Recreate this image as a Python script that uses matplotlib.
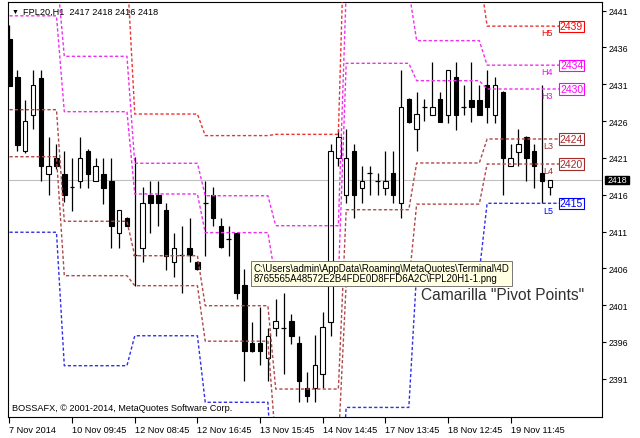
import matplotlib
matplotlib.use('Agg')
import matplotlib.pyplot as plt
import matplotlib.patches as patches
from matplotlib.transforms import blended_transform_factory
import numpy as np

plt.rcParams['font.family'] = ['Liberation Sans', 'DejaVu Sans']

W, H = 640, 439  # output size in pixels

# FPL20 H1 candles, 7 Nov 10:45 .. 19 Nov 16:45
opens = [2437.1, 2432.0, 2421.9, 2426.8, 2431.9, 2418.8, 2421.0,
         2418.8, 2417.0, 2417.9, 2422.0, 2417.9, 2418.8, 2417.9, 2410.8, 2412.8,
         2407.8, 2408.8, 2416.0, 2416.0, 2413.9, 2406.8, 2407.8, 2408.8, 2406.8,
         2414.9, 2415.9, 2411.8, 2410.0, 2410.8, 2403.8, 2395.8, 2395.8, 2393.8,
         2397.9, 2397.9, 2398.8, 2395.8, 2389.8, 2389.8, 2391.6, 2398.7, 2421.0,
         2415.9, 2422.0, 2416.9, 2418.9, 2417.9, 2416.9, 2418.9, 2414.9, 2429.0,
         2424.9, 2427.9, 2426.8, 2429.0, 2426.8, 2432.0, 2427.9, 2428.9, 2428.9,
         2430.9, 2426.8, 2430.0, 2419.9, 2421.8, 2423.9, 2422.0, 2418.9, 2417.0]
highs = [2439.1, 2432.9, 2428.9, 2432.9, 2432.9, 2423.9, 2422.9,
         2422.0, 2421.0, 2423.9, 2422.2, 2421.0, 2421.0, 2421.0, 2413.9, 2413.0,
         2421.1, 2417.0, 2417.9, 2417.9, 2414.9, 2410.8, 2411.8, 2412.8, 2407.0,
         2417.9, 2417.0, 2412.8, 2411.8, 2410.9, 2405.9, 2398.7, 2400.7, 2397.9,
         2401.8, 2402.7, 2399.8, 2396.8, 2391.9, 2396.9, 2400.0, 2422.9, 2424.9,
         2424.9, 2422.9, 2419.9, 2419.9, 2418.9, 2422.0, 2422.0, 2433.0, 2429.1,
         2429.9, 2429.0, 2434.0, 2430.0, 2433.0, 2434.0, 2430.9, 2434.0, 2430.9,
         2433.0, 2432.0, 2430.1, 2422.9, 2424.9, 2424.0, 2422.9, 2430.9, 2418.0]
lows = [2430.7, 2422.0, 2421.7, 2424.9, 2417.9, 2415.9, 2419.5,
        2415.0, 2413.8, 2416.9, 2416.9, 2417.8, 2414.7, 2408.8, 2408.8, 2411.7,
        2403.6, 2406.8, 2410.8, 2411.8, 2405.8, 2404.8, 2402.7, 2406.8, 2405.8,
        2407.7, 2411.8, 2408.8, 2407.7, 2401.8, 2390.7, 2394.6, 2392.8, 2390.7,
        2396.8, 2391.6, 2395.7, 2387.8, 2387.8, 2387.8, 2389.8, 2396.8, 2419.9,
        2414.9, 2412.8, 2414.9, 2415.9, 2415.9, 2415.9, 2414.9, 2412.8, 2425.8,
        2422.0, 2426.0, 2426.8, 2425.9, 2425.8, 2424.8, 2426.8, 2425.9, 2426.8,
        2425.8, 2425.8, 2415.9, 2419.9, 2419.9, 2417.9, 2416.9, 2414.9, 2416.0]
closes = [2430.8, 2422.8, 2426.0, 2430.9, 2419.9, 2419.9, 2419.9,
          2415.9, 2417.0, 2421.0, 2418.8, 2419.9, 2416.9, 2411.8, 2413.9, 2411.8,
          2407.8, 2414.9, 2414.9, 2414.9, 2407.7, 2408.8, 2407.8, 2407.8, 2405.9,
          2414.9, 2412.8, 2408.9, 2410.0, 2402.7, 2394.7, 2394.7, 2394.7, 2396.8,
          2398.8, 2397.9, 2396.8, 2390.7, 2388.7, 2392.8, 2398.0, 2422.0, 2423.9,
          2421.0, 2415.9, 2417.9, 2418.9, 2417.9, 2417.9, 2415.9, 2427.9, 2425.9,
          2427.0, 2427.9, 2427.9, 2425.9, 2433.0, 2426.8, 2427.9, 2427.9, 2426.8,
          2427.9, 2430.9, 2421.0, 2421.0, 2422.9, 2421.0, 2419.9, 2417.9, 2418.0]

# bars per trading day: 7, 10, 12, 13, 14, 17, 18, 19 Nov
day_bars = [7, 9, 9, 9, 9, 9, 9, 9]

# Camarilla levels per day
h5 = [2456.9, 2446.9, 2426.96, 2424.03, 2424.2, 2460.6, 2446.3, 2438.9]
h4 = [2446.7, 2434.8, 2420.27, 2415.86, 2411.79, 2443.8, 2436.93, 2433.6]
h3 = [2440.3, 2427.28, 2416.1, 2410.85, 2404.4, 2433.85, 2431.49, 2430.36]
l3 = [2427.55, 2412.39, 2407.71, 2400.92, 2389.6, 2413.96, 2420.31, 2423.57]
l4 = [2421.16, 2405.0, 2403.64, 2396.1, 2382.2, 2404.0, 2414.72, 2420.17]
l5 = [2410.9, 2392.77, 2396.84, 2387.8, 2370.0, 2387.1, 2405.5, 2414.83]

tick_bars = [0, 8, 16, 24, 32, 40, 48, 56, 64]
tick_labels = ['7 Nov 2014', '10 Nov 09:45', '12 Nov 08:45', '12 Nov 16:45',
               '13 Nov 15:45', '14 Nov 14:45', '17 Nov 13:45', '18 Nov 12:45',
               '19 Nov 11:45']
price_ticks = [2391, 2396, 2401, 2406, 2411, 2416, 2421, 2426, 2431, 2436, 2441]
bid = 2418


def fx(px):
    return px / W


def fy(py):
    return 1 - py / H


fig = plt.figure(figsize=(W / 100, H / 100), dpi=100)
fig.patch.set_facecolor('white')
ax = fig.add_axes([fx(8), fy(418.3), 594 / W, 415.6 / H])
ax.set_xlim(-0.19, 75.67)
ax.set_ylim(2385.76, 2442.22)
for s in ax.spines.values():
    s.set_linewidth(0.8)
    s.set_color('black')

# bid line
ax.axhline(bid, color='#c0c0c0', lw=0.8, zorder=1)

# candles
o, hi, lo, c = (np.array(a) for a in (opens, highs, lows, closes))
x = np.arange(len(o))
bw = 0.58
ax.vlines(x, lo, hi, color='black', lw=0.9, zorder=2)
for i in x:
    if abs(c[i] - o[i]) < 0.15:
        ax.hlines(o[i], i - bw / 2, i + bw / 2, color='black', lw=0.9, zorder=3)
    else:
        ax.add_patch(patches.Rectangle((i - bw / 2, min(o[i], c[i])), bw,
                                       abs(c[i] - o[i]),
                                       fc='white' if c[i] > o[i] else 'black',
                                       ec='black', lw=0.8, zorder=3))

# pivot levels
box_l, box_r = 70.18, 73.37
levels = [
    (h5, 'H5', '#e83434', '#ff0000'),
    (h4, 'H4', '#ee30ee', '#ff00ff'),
    (h3, 'H3', '#ee30ee', '#ff00ff'),
    (l3, 'L3', '#b04848', '#a52a2a'),
    (l4, 'L4', '#b04848', '#a52a2a'),
    (l5, 'L5', '#3030e6', '#0000ff'),
]
for vals, name, lc, tc in levels:
    yv = np.repeat(vals, day_bars)
    xs = np.append(x, box_l)
    ys = np.append(yv, yv[-1])
    ax.plot(xs, ys, color=lc, lw=1.0, ls=(0, (2.3, 1.6)), zorder=4)
    last = vals[-1]
    ax.text(69.4, last - 0.3, name, color=tc, fontsize=6.5, ha='right',
            va='top', zorder=5)
    ax.add_patch(patches.Rectangle((box_l, last - 0.75), box_r - box_l, 1.5,
                                   fc='white', ec=tc, lw=0.8, zorder=5))
    ax.text((box_l + box_r) / 2, last, f'{round(last):d}', color=tc,
            fontsize=7.5, ha='center', va='center', zorder=6)

# axes ticks
ax.set_xticks(tick_bars)
ax.set_xticklabels(tick_labels, ha='left')
ax.tick_params(axis='x', direction='out', length=4, width=0.8, pad=1.5,
               labelsize=6.6, colors='black')
ax.yaxis.tick_right()
ax.set_yticks(price_ticks)
ax.tick_params(axis='y', direction='out', length=3, width=0.8, pad=2,
               labelsize=6.3, colors='black')

# bid price label
tr = blended_transform_factory(fig.transFigure, ax.transData)
fig.add_artist(patches.Rectangle((fx(605), bid - 0.6), 24 / W, 1.2,
                                 transform=tr, fc='black', ec='black',
                                 zorder=6, clip_on=False))
fig.text(fx(617), 0, f'{bid}', transform=tr, color='white', fontsize=6.3,
         ha='center', va='center', zorder=7).set_y(bid)

# chart caption texts
fig.text(fx(11.5), fy(12.5), '\u25bc', fontsize=5, va='center', ha='left')
fig.text(fx(23), fy(12.5), 'FPL20,H1  2417 2418 2416 2418', fontsize=6.6,
         va='center', ha='left')
fig.text(fx(12.5), fy(409), 'BOSSAFX, \u00a9 2001-2014, MetaQuotes Software Corp.',
         fontsize=6.6, va='center', ha='left')
fig.text(fx(421), fy(300.5), 'Camarilla "Pivot Points"', fontsize=11.2,
         color='#303030', va='baseline', ha='left', zorder=4)

# screenshot tooltip
fig.add_artist(patches.Rectangle((fx(251), fy(287)), 261 / W, 25 / H,
                                 transform=fig.transFigure, fc='#ffffe1',
                                 ec='#767676', lw=0.7, zorder=8))
fig.text(fx(254), fy(268.5),
         'C:\\Users\\admin\\AppData\\Roaming\\MetaQuotes\\Terminal\\4D',
         fontsize=6.9, va='center', ha='left', zorder=9)
fig.text(fx(254), fy(279.5), '8765565A48572E2B4FDE0D8FFD6A2C\\FPL20H1-1.png',
         fontsize=6.9, va='center', ha='left', zorder=9)

fig.savefig('out.png', dpi=100)
